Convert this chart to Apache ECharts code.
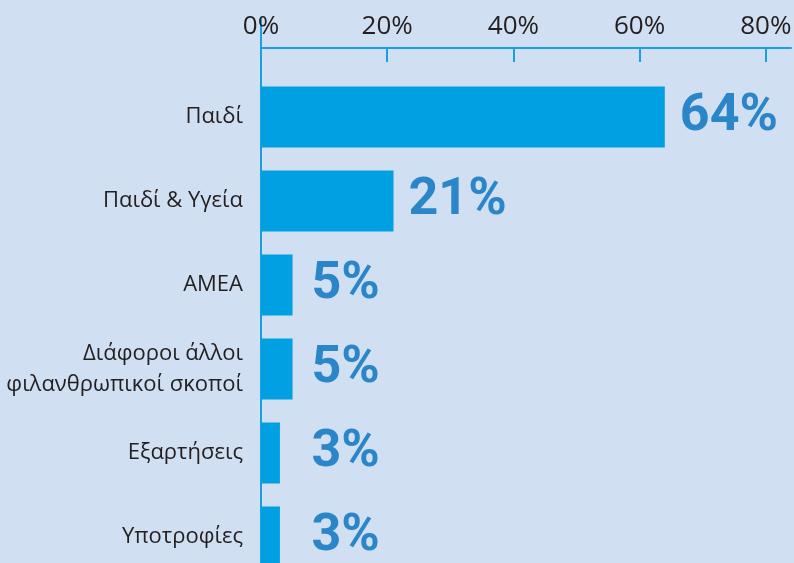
<!DOCTYPE html>
<html>
<head>
<meta charset="utf-8">
<script src="https://cdn.jsdelivr.net/npm/echarts@6/dist/echarts.min.js"></script>
<style>
  html, body { margin: 0; padding: 0; background: #d0dff1; }
  #chart { width: 794px; height: 563px; }
</style>
</head>
<body>
<div id="chart"></div>
<script>
// data
const categories = [
  "Παιδί",
  "Παιδί & Υγεία",
  "ΑΜΕΑ",
  "Διάφοροι άλλοι\nφιλανθρωπικοί σκοποί",
  "Εξαρτήσεις",
  "Υποτροφίες",
];
const shares = [64, 21, 5, 5, 3, 3];
const tickValues = [0, 20, 40, 60, 80];

const BLUE = "#00a0e3";
const LINE = "#1a9fe2";
const LABEL = "#2b86c9";
const TEXT = "#231f20";
const PX_PER_PCT = 6.3125;

const chart = echarts.init(document.getElementById("chart"), null, { renderer: "canvas" });

chart.setOption({
  backgroundColor: "#d0dff1",
  animation: false,
  textStyle: { fontFamily: "Open Sans" },
  grid: {
    top: 75,
    height: 504,
    left: 261,
    right: 3,
    containLabel: false,
    outerBoundsMode: "none",
  },
  xAxis: {
    type: "value",
    position: "top",
    offset: 27,
    min: 0,
    max: 84,
    interval: 20,
    axisLine: { show: true, lineStyle: { color: LINE, width: 2 } },
    axisTick: {
      show: true,
      inside: true,
      length: 14,
      customValues: tickValues.slice(1),
      lineStyle: { color: LINE, width: 2 },
    },
    axisLabel: {
      customValues: tickValues,
      formatter: (v) => v + "%",
      color: TEXT,
      fontSize: 26,
      margin: 8,
    },
    splitLine: { show: false },
  },
  yAxis: {
    type: "category",
    data: categories,
    inverse: true,
    axisLine: { show: true, lineStyle: { color: LINE, width: 2 } },
    axisTick: { show: false },
    axisLabel: {
      color: TEXT,
      fontSize: 22,
      lineHeight: 31,
      margin: 18,
      align: "right",
      padding: [10, 0, 0, 0],
    },
  },
  series: [
    {
      type: "bar",
      // small bars keep their labels lined up at the 8% mark
      data: shares.map((v) => ({
        value: v,
        label: { distance: Math.max(15, (8 - v) * PX_PER_PCT) },
      })),
      barWidth: 61,
      itemStyle: { color: BLUE },
      label: {
        show: true,
        position: "right",
        formatter: "{c}%",
        color: LABEL,
        fontSize: 52,
        fontWeight: "bold",
        fontFamily: "Roboto",
      },
    },
  ],
});

// y axis line reaches up past the top axis
const x0 = chart.convertToPixel({ xAxisIndex: 0 }, 0);
chart.setOption({
  graphic: [
    {
      type: "line",
      shape: { x1: x0, y1: 18, x2: x0, y2: 76 },
      style: { stroke: LINE, lineWidth: 2 },
    },
  ],
});
</script>
</body>
</html>
